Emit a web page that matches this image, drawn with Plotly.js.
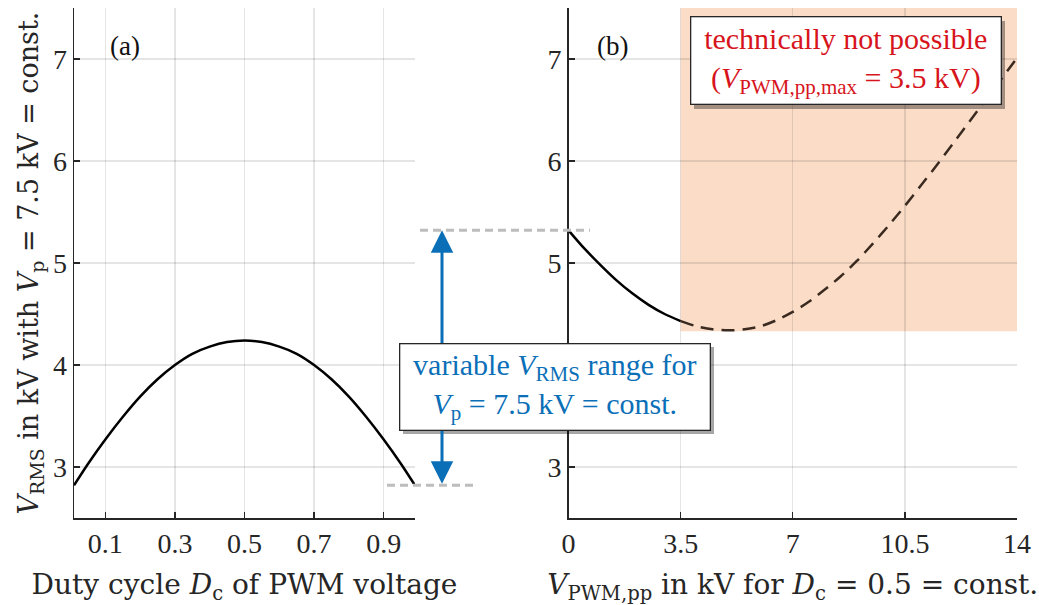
<!DOCTYPE html>
<html>
<head>
<meta charset="utf-8">
<script src="https://cdn.plot.ly/plotly-3.0.1.min.js"></script>
<style>
  html, body { margin: 0; padding: 0; background: #fff; }
  #chart { width: 1039px; height: 605px; }
</style>
</head>
<body>
<div id="chart"></div>
<script>
// (a) RMS voltage over duty cycle at constant peak voltage
const dutyCycle = [0.01, 0.05, 0.1, 0.15, 0.2, 0.25, 0.3, 0.35, 0.4, 0.45, 0.5,
                   0.55, 0.6, 0.65, 0.7, 0.75, 0.8, 0.85, 0.9, 0.95, 0.99];
const vRmsDuty  = [2.82, 3.03, 3.27, 3.49, 3.69, 3.86, 4.00, 4.11, 4.18, 4.225, 4.24,
                   4.225, 4.18, 4.11, 4.00, 3.86, 3.69, 3.49, 3.27, 3.03, 2.82];

// (b) RMS voltage over peak-to-peak PWM voltage at D_c = 0.5
const vPwmFeasible = [0, 0.5, 1, 1.5, 2, 2.5, 3, 3.5];
const vRmsFeasible = [5.32, 5.14, 4.98, 4.83, 4.70, 4.59, 4.50, 4.43];
const vPwmInfeasible = [3.5, 4, 4.5, 5, 5.5, 6, 6.5, 7, 7.5, 8, 8.5, 9, 9.5, 10,
                        10.5, 11, 11.5, 12, 12.5, 13, 13.5, 14];
const vRmsInfeasible = [4.43, 4.38, 4.35, 4.34, 4.35, 4.38, 4.44, 4.52, 4.62, 4.74,
                        4.87, 5.02, 5.19, 5.37, 5.56, 5.76, 5.96, 6.17, 6.38, 6.59,
                        6.80, 7.01];

const vPwmMax = 3.5;      // kV, upper limit of the PWM source

const dutyTicks = [0.1, 0.3, 0.5, 0.7, 0.9];
const pwmTicks = [0, 3.5, 7, 10.5, 14];
const rmsTicks = [3, 4, 5, 6, 7];

// layout geometry in pixels
const W = 1039, H = 605;
const M = { l: 74, r: 22, t: 8, b: 87 };
const plotW = W - M.l - M.r, plotH = H - M.t - M.b;
const px = x => (x - M.l) / plotW;
const py = y => (H - M.b - y) / plotH;

const serif = 'Liberation Serif, Times New Roman, serif';
const ink = '#262626';
const blue = '#0b6fb8';
const red = '#d7141c';
const gridColor = 'rgba(0,0,0,0.10)';

const rmsTop = vRmsFeasible[0];
const rmsBottom = vRmsDuty[0];
const rmsMin = Math.min(...vRmsInfeasible);

const traces = [
  { x: dutyCycle, y: vRmsDuty, xaxis: 'x', yaxis: 'y', mode: 'lines',
    line: { color: '#000', width: 2.5, shape: 'spline', smoothing: 0.8 }, hoverinfo: 'skip' },
  { x: vPwmFeasible, y: vRmsFeasible, xaxis: 'x2', yaxis: 'y2', mode: 'lines',
    line: { color: '#000', width: 2.5, shape: 'spline', smoothing: 0.8 }, hoverinfo: 'skip' },
  { x: vPwmInfeasible, y: vRmsInfeasible, xaxis: 'x2', yaxis: 'y2', mode: 'lines',
    line: { color: '#3a2a1f', width: 2.5, dash: '13px,8px', shape: 'spline', smoothing: 0.8 }, hoverinfo: 'skip' }
];

function axis(extra) {
  return Object.assign({
    showline: true, linecolor: ink, linewidth: 1.5, mirror: false,
    ticks: 'inside', ticklen: 6, tickwidth: 1.3, tickcolor: ink,
    showgrid: true, gridcolor: gridColor, gridwidth: 1.3, zeroline: false,
    tickfont: { family: serif, size: 28, color: ink }, fixedrange: true
  }, extra);
}
function axisTitle(text, size, standoff) {
  return { text: text, standoff: standoff, font: { family: 'DejaVu Serif, serif', size: size, color: ink } };
}

const layout = {
  width: W, height: H,
  margin: M,
  font: { family: serif, size: 28, color: ink },
  paper_bgcolor: '#fff', plot_bgcolor: '#fff',
  showlegend: false,
  xaxis: axis({
    domain: [0, px(415)], range: [0.01, 0.99], anchor: 'y',
    tickvals: dutyTicks, ticktext: dutyTicks.map(String),
    title: axisTitle('Duty cycle <i>D</i><sub>c</sub> of PWM voltage', 28, 16)
  }),
  yaxis: axis({
    domain: [0, 1], range: [2.5, 7.5], anchor: 'x',
    tickvals: rmsTicks, ticktext: rmsTicks.map(String),
    title: axisTitle('<i>V</i><sub>RMS</sub> in kV with <i>V</i><sub>p</sub> = 7.5 kV = const.', 27, 6)
  }),
  xaxis2: axis({
    domain: [px(568.5), 1], range: [0, 14], anchor: 'y2',
    tickvals: pwmTicks, ticktext: pwmTicks.map(String),
    title: axisTitle('<i>V</i><sub>PWM,pp</sub> in kV for <i>D</i><sub>c</sub> = 0.5 = const.', 28, 16)
  }),
  yaxis2: axis({
    domain: [0, 1], range: [2.5, 7.5], anchor: 'x2',
    tickvals: rmsTicks, ticktext: rmsTicks.map(String)
  }),
  shapes: [
    // region beyond the PWM source limit
    { type: 'rect', xref: 'x2', yref: 'y2', x0: vPwmMax, x1: 14, y0: rmsMin - 0.01, y1: 7.5,
      fillcolor: '#fadcc7', line: { width: 0 }, layer: 'below' },
    // reference levels of the RMS range
    { type: 'line', xref: 'paper', yref: 'y', x0: px(420), x1: px(590), y0: rmsTop, y1: rmsTop,
      line: { color: '#bdbdbd', width: 3, dash: '8px,5px' } },
    { type: 'line', xref: 'paper', yref: 'y', x0: px(387), x1: px(474), y0: rmsBottom, y1: rmsBottom,
      line: { color: '#bdbdbd', width: 3, dash: '8px,5px' } },
    // drop shadows of the text boxes
    { type: 'rect', xref: 'paper', yref: 'paper', x0: px(403), x1: px(714), y0: py(434), y1: py(347),
      fillcolor: 'rgba(0,0,0,0.35)', line: { width: 0 } },
    { type: 'rect', xref: 'paper', yref: 'paper', x0: px(694), x1: px(1005), y0: py(109), y1: py(21),
      fillcolor: 'rgba(0,0,0,0.35)', line: { width: 0 } }
  ],
  annotations: [
    { xref: 'paper', yref: 'paper', x: px(125), y: py(46), text: '(a)', showarrow: false,
      font: { family: serif, size: 27, color: '#111' }, xanchor: 'center', yanchor: 'middle' },
    { xref: 'paper', yref: 'paper', x: px(612), y: py(46), text: '(b)', showarrow: false,
      font: { family: serif, size: 27, color: '#111' }, xanchor: 'center', yanchor: 'middle' },
    // double arrow spanning the achievable RMS range
    { xref: 'paper', yref: 'y', x: px(442), y: rmsTop, axref: 'pixel', ax: 0,
      ayref: 'y', ay: rmsBottom, text: '', showarrow: true,
      arrowside: 'end+start', arrowhead: 2, startarrowhead: 2,
      arrowsize: 1.5, startarrowsize: 1.5, arrowwidth: 3, arrowcolor: blue, standoff: 0, startstandoff: 0 },
    { xref: 'paper', yref: 'paper', x: px(555), y: py(386.5), xanchor: 'center', yanchor: 'middle',
      text: 'variable <i>V</i><sub>RMS</sub> range for<br><i>V</i><sub>p</sub> = 7.5 kV = const.',
      showarrow: false, font: { family: serif, size: 30, color: blue },
      bgcolor: '#fff', bordercolor: ink, borderwidth: 1.3, borderpad: 0,
      width: 309, height: 85, align: 'center' },
    { xref: 'paper', yref: 'paper', x: px(846), y: py(61), xanchor: 'center', yanchor: 'middle',
      text: 'technically not possible<br>(<i>V</i><sub>PWM,pp,max</sub> = ' + vPwmMax + ' kV)',
      showarrow: false, font: { family: serif, size: 30, color: red },
      bgcolor: '#fff', bordercolor: ink, borderwidth: 1.3, borderpad: 0,
      width: 309, height: 86, align: 'center' }
  ]
};

Plotly.newPlot('chart', traces, layout, { displayModeBar: false, staticPlot: true });
</script>
</body>
</html>
